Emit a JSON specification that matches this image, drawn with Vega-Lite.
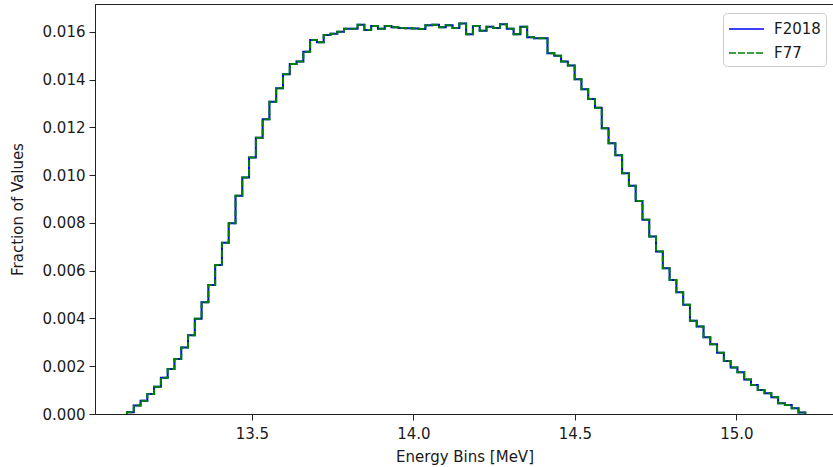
{
  "$schema": "https://vega.github.io/schema/vega-lite/v6.json",
  "width": 739,
  "height": 410,
  "autosize": {"type": "none"},
  "padding": {"left": 95, "top": 4, "right": 0, "bottom": 53},
  "background": "white",
  "data": {"values": [
    {"energy": 13.113, "F2018": 0, "F77": 0},
    {"energy": 13.113, "F2018": 0.00007, "F77": 0.00007},
    {"energy": 13.134, "F2018": 0.00036, "F77": 0.00036},
    {"energy": 13.155, "F2018": 0.00056, "F77": 0.00056},
    {"energy": 13.176, "F2018": 0.00084, "F77": 0.00084},
    {"energy": 13.197, "F2018": 0.00114, "F77": 0.00114},
    {"energy": 13.218, "F2018": 0.00152, "F77": 0.00152},
    {"energy": 13.239, "F2018": 0.00188, "F77": 0.00188},
    {"energy": 13.260, "F2018": 0.0023, "F77": 0.0023},
    {"energy": 13.281, "F2018": 0.00279, "F77": 0.00279},
    {"energy": 13.302, "F2018": 0.0033, "F77": 0.0033},
    {"energy": 13.323, "F2018": 0.00399, "F77": 0.00399},
    {"energy": 13.344, "F2018": 0.00468, "F77": 0.00468},
    {"energy": 13.365, "F2018": 0.0054, "F77": 0.0054},
    {"energy": 13.386, "F2018": 0.00624, "F77": 0.00624},
    {"energy": 13.407, "F2018": 0.00717, "F77": 0.00717},
    {"energy": 13.428, "F2018": 0.00799, "F77": 0.00799},
    {"energy": 13.449, "F2018": 0.00914, "F77": 0.00914},
    {"energy": 13.470, "F2018": 0.0099, "F77": 0.0099},
    {"energy": 13.491, "F2018": 0.01074, "F77": 0.01074},
    {"energy": 13.512, "F2018": 0.01157, "F77": 0.01157},
    {"energy": 13.533, "F2018": 0.01234, "F77": 0.01234},
    {"energy": 13.554, "F2018": 0.01308, "F77": 0.01308},
    {"energy": 13.575, "F2018": 0.01364, "F77": 0.01364},
    {"energy": 13.596, "F2018": 0.01423, "F77": 0.01423},
    {"energy": 13.617, "F2018": 0.01466, "F77": 0.01466},
    {"energy": 13.638, "F2018": 0.01476, "F77": 0.01476},
    {"energy": 13.659, "F2018": 0.01517, "F77": 0.01517},
    {"energy": 13.680, "F2018": 0.01566, "F77": 0.01566},
    {"energy": 13.701, "F2018": 0.01557, "F77": 0.01557},
    {"energy": 13.722, "F2018": 0.01587, "F77": 0.01587},
    {"energy": 13.743, "F2018": 0.01592, "F77": 0.01592},
    {"energy": 13.764, "F2018": 0.01601, "F77": 0.01601},
    {"energy": 13.785, "F2018": 0.01613, "F77": 0.01613},
    {"energy": 13.806, "F2018": 0.01613, "F77": 0.01613},
    {"energy": 13.827, "F2018": 0.0163, "F77": 0.0163},
    {"energy": 13.848, "F2018": 0.01608, "F77": 0.01608},
    {"energy": 13.869, "F2018": 0.01625, "F77": 0.01625},
    {"energy": 13.890, "F2018": 0.01613, "F77": 0.01613},
    {"energy": 13.911, "F2018": 0.01625, "F77": 0.01625},
    {"energy": 13.932, "F2018": 0.0162, "F77": 0.0162},
    {"energy": 13.953, "F2018": 0.01617, "F77": 0.01617},
    {"energy": 13.974, "F2018": 0.01615, "F77": 0.01615},
    {"energy": 13.995, "F2018": 0.01614, "F77": 0.01614},
    {"energy": 14.016, "F2018": 0.01612, "F77": 0.01612},
    {"energy": 14.037, "F2018": 0.01628, "F77": 0.01628},
    {"energy": 14.058, "F2018": 0.0163, "F77": 0.0163},
    {"energy": 14.079, "F2018": 0.0162, "F77": 0.0162},
    {"energy": 14.100, "F2018": 0.01628, "F77": 0.01628},
    {"energy": 14.121, "F2018": 0.01617, "F77": 0.01617},
    {"energy": 14.142, "F2018": 0.01635, "F77": 0.01635},
    {"energy": 14.163, "F2018": 0.0159, "F77": 0.0159},
    {"energy": 14.184, "F2018": 0.01625, "F77": 0.01625},
    {"energy": 14.205, "F2018": 0.01605, "F77": 0.01605},
    {"energy": 14.226, "F2018": 0.01622, "F77": 0.01622},
    {"energy": 14.247, "F2018": 0.01617, "F77": 0.01617},
    {"energy": 14.268, "F2018": 0.01632, "F77": 0.01632},
    {"energy": 14.289, "F2018": 0.01613, "F77": 0.01613},
    {"energy": 14.310, "F2018": 0.0159, "F77": 0.0159},
    {"energy": 14.331, "F2018": 0.01622, "F77": 0.01622},
    {"energy": 14.352, "F2018": 0.01578, "F77": 0.01578},
    {"energy": 14.373, "F2018": 0.01574, "F77": 0.01574},
    {"energy": 14.394, "F2018": 0.01574, "F77": 0.01574},
    {"energy": 14.415, "F2018": 0.01511, "F77": 0.01511},
    {"energy": 14.436, "F2018": 0.015, "F77": 0.015},
    {"energy": 14.457, "F2018": 0.01476, "F77": 0.01476},
    {"energy": 14.478, "F2018": 0.01459, "F77": 0.01459},
    {"energy": 14.499, "F2018": 0.01402, "F77": 0.01402},
    {"energy": 14.520, "F2018": 0.0136, "F77": 0.0136},
    {"energy": 14.541, "F2018": 0.01319, "F77": 0.01319},
    {"energy": 14.562, "F2018": 0.01283, "F77": 0.01283},
    {"energy": 14.583, "F2018": 0.01197, "F77": 0.01197},
    {"energy": 14.604, "F2018": 0.01134, "F77": 0.01134},
    {"energy": 14.625, "F2018": 0.01084, "F77": 0.01084},
    {"energy": 14.646, "F2018": 0.01008, "F77": 0.01008},
    {"energy": 14.667, "F2018": 0.00956, "F77": 0.00956},
    {"energy": 14.688, "F2018": 0.00892, "F77": 0.00892},
    {"energy": 14.709, "F2018": 0.00813, "F77": 0.00813},
    {"energy": 14.730, "F2018": 0.00743, "F77": 0.00743},
    {"energy": 14.751, "F2018": 0.0068, "F77": 0.0068},
    {"energy": 14.772, "F2018": 0.0061, "F77": 0.0061},
    {"energy": 14.793, "F2018": 0.00561, "F77": 0.00561},
    {"energy": 14.814, "F2018": 0.0051, "F77": 0.0051},
    {"energy": 14.835, "F2018": 0.00457, "F77": 0.00457},
    {"energy": 14.856, "F2018": 0.00391, "F77": 0.00391},
    {"energy": 14.877, "F2018": 0.00366, "F77": 0.00366},
    {"energy": 14.898, "F2018": 0.00321, "F77": 0.00321},
    {"energy": 14.919, "F2018": 0.00292, "F77": 0.00292},
    {"energy": 14.940, "F2018": 0.00257, "F77": 0.00257},
    {"energy": 14.961, "F2018": 0.00222, "F77": 0.00222},
    {"energy": 14.982, "F2018": 0.00195, "F77": 0.00195},
    {"energy": 15.003, "F2018": 0.00175, "F77": 0.00175},
    {"energy": 15.024, "F2018": 0.00145, "F77": 0.00145},
    {"energy": 15.045, "F2018": 0.00121, "F77": 0.00121},
    {"energy": 15.066, "F2018": 0.00101, "F77": 0.00101},
    {"energy": 15.087, "F2018": 0.00087, "F77": 0.00087},
    {"energy": 15.108, "F2018": 0.0007, "F77": 0.0007},
    {"energy": 15.129, "F2018": 0.00045, "F77": 0.00045},
    {"energy": 15.150, "F2018": 0.00038, "F77": 0.00038},
    {"energy": 15.171, "F2018": 0.00024, "F77": 0.00024},
    {"energy": 15.192, "F2018": 0.00006, "F77": 0.00006},
    {"energy": 15.213, "F2018": 0, "F77": 0}
  ]},
  "transform": [{"fold": ["F2018", "F77"], "as": ["series", "value"]}],
  "mark": {"type": "line", "interpolate": "step-after", "strokeWidth": 2, "clip": true},
  "encoding": {
    "x": {
      "field": "energy", "type": "quantitative",
      "scale": {"domain": [13.014, 15.302], "nice": false, "zero": false},
      "axis": {"values": [13.5, 14.0, 14.5, 15.0], "format": ".1f", "title": "Energy Bins [MeV]", "titlePadding": 8, "labelPadding": 6}
    },
    "y": {
      "field": "value", "type": "quantitative",
      "scale": {"domain": [0, 0.01717], "nice": false},
      "axis": {"values": [0, 0.002, 0.004, 0.006, 0.008, 0.01, 0.012, 0.014, 0.016], "format": ".3f", "title": "Fraction of Values", "titlePadding": 17}
    },
    "color": {
      "field": "series", "type": "nominal",
      "scale": {"domain": ["F2018", "F77"], "range": ["#0000ff", "#008000"]}
    },
    "strokeDash": {
      "field": "series", "type": "nominal",
      "scale": {"domain": ["F2018", "F77"], "range": [[1, 0], [7, 2]]}
    }
  },
  "config": {
    "font": "DejaVu Sans",
    "view": {"stroke": "#222222", "strokeWidth": 1},
    "axis": {
      "grid": false,
      "domainColor": "#222222",
      "tickColor": "#222222",
      "tickSize": 6,
      "labelFontSize": 15,
      "labelColor": "#1a1a1a",
      "labelPadding": 4,
      "titleFontSize": 15,
      "titleFontWeight": "normal",
      "titleColor": "#1a1a1a"
    },
    "legend": {
      "orient": "none",
      "legendX": 628,
      "legendY": 9,
      "title": null,
      "fillColor": "rgba(255,255,255,0.8)",
      "strokeColor": "#cccccc",
      "cornerRadius": 4,
      "padding": 5,
      "symbolType": "M-1,0H2.5",
      "symbolSize": 400,
      "symbolStrokeWidth": 1.5,
      "labelFontSize": 15,
      "labelColor": "#1a1a1a",
      "labelOffset": 24,
      "rowPadding": 5
    }
  }
}
